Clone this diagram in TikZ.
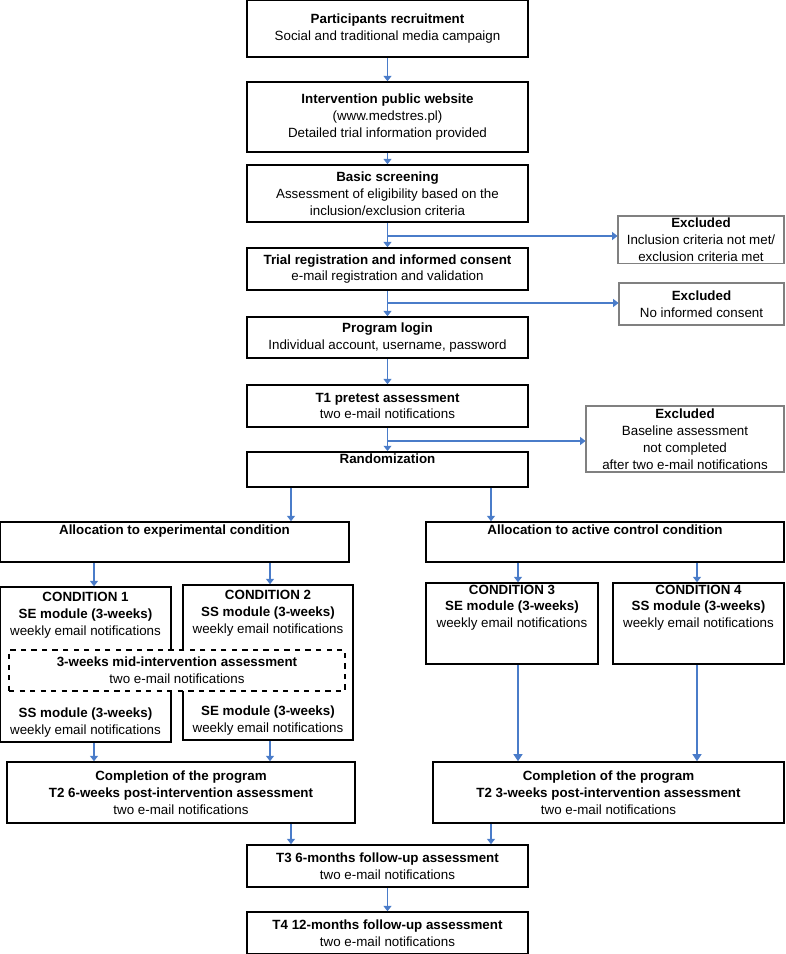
\documentclass[tikz,border=0pt]{standalone}
\usepackage{fontspec}
\setmainfont{Liberation Sans}
\usetikzlibrary{arrows.meta}
\definecolor{arrowblue}{HTML}{4A7CC9}
\tikzset{
    box/.style={draw, line width=0.9pt, align=center, inner sep=1pt, font=\fontsize{7.6}{9.6}\selectfont},
    exbox/.style={box, draw=gray, line width=0.6pt},
    flow/.style={draw=arrowblue, line width=0.6pt, -{Triangle[width=4.5pt,length=3pt]}},
    thick flow/.style={draw=arrowblue, line width=1.2pt, -{Triangle[width=5pt,length=4pt]}}
}
\begin{document}
\begin{tikzpicture}[x=0.02cm, y=-0.02cm]
    \useasboundingbox (0,0) rectangle (785,954);

    % Main column
    \node[box, minimum width=5.62cm, minimum height=1.14cm] (recruit) at (387.5,28.5) {\textbf{Participants recruitment}\\Social and traditional media campaign};
    \node[box, minimum width=5.62cm, minimum height=1.40cm] (website) at (387.5,117) {\textbf{Intervention public website}\\(www.medstres.pl)\\Detailed trial information provided};
    \node[box, minimum width=5.62cm, minimum height=1.14cm] (screen) at (387.5,193.5) {\textbf{Basic screening}\\Assessment of eligibility based on the\\inclusion/exclusion criteria};
    \node[box, minimum width=5.62cm, minimum height=0.84cm] (consent) at (387.5,269) {\textbf{Trial registration and informed consent}\\e-mail registration and validation};
    \node[box, minimum width=5.62cm, minimum height=0.82cm] (login) at (387.5,337.5) {\textbf{Program login}\\Individual account, username, password};
    \node[box, minimum width=5.62cm, minimum height=0.84cm] (pretest) at (387.5,406) {\textbf{T1 pretest assessment}\\two e-mail notifications};
    \node[box, minimum width=5.62cm, minimum height=0.66cm] (random) at (387.5,469.5) {\textbf{Randomization}\\[3pt]};

    % Excluded
    \node[exbox, minimum width=3.32cm, minimum height=0.94cm] (excl1) at (701,239.5) {\textbf{Excluded}\\Inclusion criteria not met/\\exclusion criteria met};
    \node[exbox, minimum width=3.30cm, minimum height=0.84cm] (excl2) at (701.5,304) {\textbf{Excluded}\\No informed consent};
    \node[exbox, minimum width=3.96cm, minimum height=1.32cm] (excl3) at (685,439) {\textbf{Excluded}\\Baseline assessment\\not completed\\after two e-mail notifications};

    % Allocation
    \node[box, minimum width=6.98cm, minimum height=0.80cm] (expalloc) at (174.5,542) {\textbf{Allocation to experimental condition}\\[4pt]};
    \node[box, minimum width=7.16cm, minimum height=0.80cm] (ctlalloc) at (605,542) {\textbf{Allocation to active control condition}\\[4pt]};

    % Conditions
    \node[box, minimum width=3.42cm, minimum height=3.10cm] (cond1) at (85.5,664.5) {};
    \node[box, minimum width=3.40cm, minimum height=3.10cm] (cond2) at (268,662.5) {};
    \node[box, anchor=north, draw=none] at (85.5,590) {\textbf{CONDITION 1}\\\textbf{SE module (3-weeks)}\\weekly email notifications};
    \node[box, anchor=north, draw=none] at (268,588) {\textbf{CONDITION 2}\\\textbf{SS module (3-weeks)}\\weekly email notifications};
    \node[box, anchor=south, draw=none] at (85.5,740) {\textbf{SS module (3-weeks)}\\weekly email notifications};
    \node[box, anchor=south, draw=none] at (268,738) {\textbf{SE module (3-weeks)}\\weekly email notifications};
    \node[box, dashed, fill=white, minimum width=6.72cm, minimum height=0.82cm] (mid) at (177,670.5) {\textbf{3-weeks mid-intervention assessment}\\two e-mail notifications};
    \node[box, minimum width=3.44cm, minimum height=1.54cm] (cond3) at (512,623.5) {\textbf{CONDITION 3}\\\textbf{SE module (3-weeks)}\\weekly email notifications\\[10pt]};
    \node[box, minimum width=3.42cm, minimum height=1.54cm] (cond4) at (698.5,623.5) {\textbf{CONDITION 4}\\\textbf{SS module (3-weeks)}\\weekly email notifications\\[10pt]};

    % Completion and follow-up
    \node[box, minimum width=6.96cm, minimum height=1.22cm] (compl1) at (181,792.5) {\textbf{Completion of the program}\\\textbf{T2 6-weeks post-intervention assessment}\\two e-mail notifications};
    \node[box, minimum width=7.02cm, minimum height=1.22cm] (compl2) at (608.5,792.5) {\textbf{Completion of the program}\\\textbf{T2 3-weeks post-intervention assessment}\\two e-mail notifications};
    \node[box, minimum width=5.62cm, minimum height=0.84cm] (fu6) at (387.5,866) {\textbf{T3 6-months follow-up assessment}\\two e-mail notifications};
    \node[box, minimum width=5.62cm, minimum height=0.84cm] (fu12) at (387.5,933) {\textbf{T4 12-months follow-up assessment}\\two e-mail notifications};

    % Connectors
    \draw[flow] (recruit) -- (website);
    \draw[flow] (website) -- (screen);
    \draw[flow] (screen) -- (consent);
    \draw[flow] (consent) -- (login);
    \draw[flow] (login) -- (pretest);
    \draw[flow] (pretest) -- (random);
    \draw[flow] (387.5,236) -- (excl1.west |- 0,236);
    \draw[flow] (387.5,303) -- (excl2.west |- 0,303);
    \draw[flow] (387.5,441) -- (excl3.west |- 0,441);
    \draw[flow] (random.south -| 291,0) -- (expalloc.north -| 291,0);
    \draw[flow] (random.south -| 491,0) -- (ctlalloc.north -| 491,0);
    \draw[flow] (expalloc.south -| 94,0) -- (cond1.north -| 94,0);
    \draw[flow] (expalloc.south -| 270,0) -- (cond2.north -| 270,0);
    \draw[flow] (ctlalloc.south -| 518,0) -- (cond3.north -| 518,0);
    \draw[flow] (ctlalloc.south -| 697,0) -- (cond4.north -| 697,0);
    \draw[flow] (cond1.south -| 94,0) -- (compl1.north -| 94,0);
    \draw[flow] (cond2.south -| 270,0) -- (compl1.north -| 270,0);
    \draw[thick flow] (cond3.south -| 518,0) -- (compl2.north -| 518,0);
    \draw[thick flow] (cond4.south -| 697,0) -- (compl2.north -| 697,0);
    \draw[flow] (compl1.south -| 291,0) -- (fu6.north -| 291,0);
    \draw[flow] (compl2.south -| 491,0) -- (fu6.north -| 491,0);
    \draw[flow] (fu6) -- (fu12);
\end{tikzpicture}
\end{document}
